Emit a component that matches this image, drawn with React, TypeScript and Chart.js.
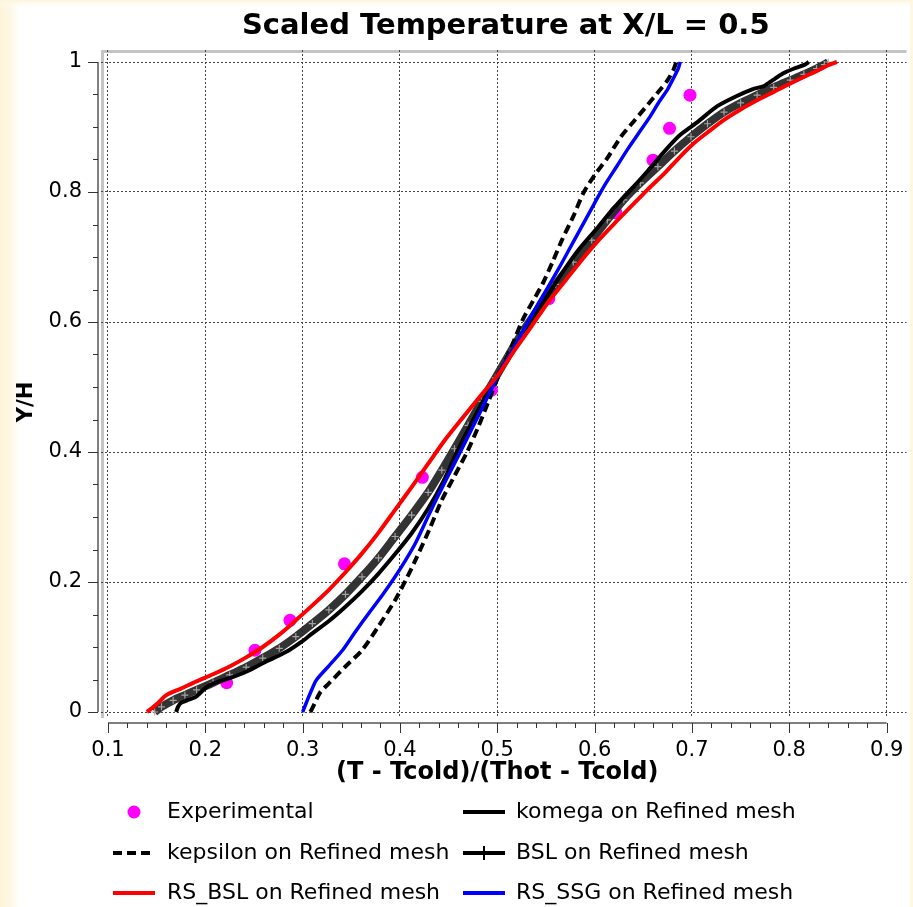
import { useEffect, useRef } from 'react';
import { Chart, registerables } from 'chart.js';

Chart.register(...registerables);

// ---------- data ----------
const xTickValues = [0.1, 0.2, 0.3, 0.4, 0.5, 0.6, 0.7, 0.8, 0.9];
const yTickValues = [0, 0.2, 0.4, 0.6, 0.8, 1];
const xMinorPerMajor = 5;
const yMinorPerMajor = 4;

const expX = [0.222, 0.251, 0.287, 0.343, 0.423, 0.494, 0.553, 0.622, 0.660, 0.677, 0.698];
const expY = [0.045, 0.095, 0.141, 0.228, 0.361, 0.495, 0.636, 0.768, 0.849, 0.898, 0.949];

const komegaX = [0.170, 0.172, 0.175, 0.183, 0.191, 0.201, 0.212, 0.225, 0.242, 0.259, 0.273, 0.286, 0.298, 0.310, 0.327, 0.344, 0.361, 0.378, 0.395, 0.412, 0.429, 0.445, 0.458, 0.472, 0.486, 0.500, 0.513, 0.530, 0.549, 0.566, 0.583, 0.603, 0.620, 0.637, 0.655, 0.672, 0.688, 0.706, 0.726, 0.745, 0.762, 0.774, 0.783, 0.793, 0.805, 0.816, 0.820];
const komegaY = [0.000, 0.008, 0.014, 0.019, 0.024, 0.038, 0.046, 0.052, 0.062, 0.075, 0.085, 0.095, 0.107, 0.121, 0.140, 0.162, 0.186, 0.213, 0.243, 0.275, 0.313, 0.356, 0.398, 0.440, 0.480, 0.517, 0.548, 0.590, 0.634, 0.674, 0.710, 0.745, 0.776, 0.803, 0.833, 0.863, 0.888, 0.908, 0.932, 0.947, 0.958, 0.963, 0.972, 0.982, 0.990, 0.996, 1.000];

const kepsilonX = [0.308, 0.312, 0.318, 0.327, 0.344, 0.361, 0.378, 0.395, 0.406, 0.416, 0.430, 0.443, 0.456, 0.469, 0.480, 0.491, 0.501, 0.514, 0.526, 0.537, 0.547, 0.557, 0.567, 0.578, 0.589, 0.601, 0.613, 0.627, 0.641, 0.655, 0.666, 0.675, 0.681, 0.684];
const kepsilonY = [0.000, 0.012, 0.030, 0.044, 0.070, 0.095, 0.132, 0.172, 0.203, 0.234, 0.280, 0.326, 0.363, 0.400, 0.437, 0.478, 0.516, 0.560, 0.603, 0.633, 0.660, 0.693, 0.728, 0.762, 0.800, 0.828, 0.852, 0.885, 0.910, 0.935, 0.955, 0.972, 0.988, 1.000];

const bslX = [0.148, 0.155, 0.167, 0.179, 0.191, 0.208, 0.225, 0.242, 0.259, 0.276, 0.293, 0.310, 0.327, 0.344, 0.361, 0.378, 0.395, 0.412, 0.429, 0.443, 0.456, 0.470, 0.484, 0.498, 0.512, 0.527, 0.543, 0.560, 0.578, 0.597, 0.613, 0.630, 0.647, 0.665, 0.682, 0.699, 0.716, 0.733, 0.750, 0.767, 0.784, 0.801, 0.815, 0.828, 0.836, 0.840];
const bslY = [0.000, 0.008, 0.018, 0.026, 0.034, 0.045, 0.057, 0.069, 0.083, 0.098, 0.116, 0.136, 0.157, 0.181, 0.208, 0.237, 0.270, 0.303, 0.338, 0.372, 0.405, 0.441, 0.478, 0.514, 0.550, 0.587, 0.622, 0.658, 0.692, 0.726, 0.757, 0.788, 0.814, 0.839, 0.863, 0.885, 0.905, 0.923, 0.937, 0.949, 0.961, 0.972, 0.981, 0.990, 0.996, 1.000];

const rsBslX = [0.140, 0.150, 0.160, 0.175, 0.191, 0.208, 0.225, 0.242, 0.259, 0.276, 0.293, 0.310, 0.327, 0.344, 0.361, 0.378, 0.395, 0.412, 0.429, 0.446, 0.463, 0.481, 0.501, 0.518, 0.535, 0.553, 0.569, 0.586, 0.603, 0.620, 0.637, 0.654, 0.672, 0.687, 0.702, 0.718, 0.733, 0.750, 0.767, 0.784, 0.801, 0.815, 0.828, 0.840, 0.849];
const rsBslY = [0.000, 0.012, 0.026, 0.036, 0.047, 0.058, 0.070, 0.084, 0.100, 0.119, 0.141, 0.164, 0.188, 0.215, 0.244, 0.276, 0.311, 0.346, 0.382, 0.418, 0.450, 0.483, 0.519, 0.557, 0.593, 0.632, 0.662, 0.694, 0.724, 0.751, 0.777, 0.803, 0.829, 0.853, 0.875, 0.894, 0.911, 0.927, 0.941, 0.954, 0.967, 0.977, 0.986, 0.995, 1.000];

const rsSsgX = [0.300, 0.304, 0.309, 0.314, 0.327, 0.341, 0.354, 0.368, 0.382, 0.395, 0.406, 0.416, 0.428, 0.437, 0.449, 0.462, 0.473, 0.484, 0.494, 0.503, 0.514, 0.527, 0.540, 0.553, 0.566, 0.578, 0.589, 0.600, 0.611, 0.623, 0.634, 0.645, 0.657, 0.666, 0.675, 0.681, 0.686, 0.688];
const rsSsgY = [0.000, 0.015, 0.033, 0.049, 0.071, 0.095, 0.123, 0.152, 0.180, 0.208, 0.234, 0.260, 0.298, 0.326, 0.362, 0.400, 0.433, 0.466, 0.497, 0.525, 0.552, 0.588, 0.623, 0.656, 0.690, 0.723, 0.753, 0.783, 0.812, 0.840, 0.866, 0.890, 0.916, 0.938, 0.958, 0.975, 0.990, 1.000];

const titleText = 'Scaled Temperature at X/L = 0.5';
const xTitleText = '(T - Tcold)/(Thot - Tcold)';
const yTitleText = 'Y/H';

// ---------- helpers ----------
const zip = (xs: number[], ys: number[]) => xs.map((x, i) => ({ x, y: ys[i] }));
const fmt = (v: number) => String(Number(v.toFixed(2)));
const FONT = '"DejaVu Sans", Verdana, sans-serif';

const minorValues = (majors: number[], per: number) => {
  const out: number[] = [];
  for (let i = 0; i < majors.length - 1; i++) {
    const a = majors[i], b = majors[i + 1];
    for (let k = 1; k < per; k++) out.push(a + ((b - a) * k) / per);
  }
  return out;
};

const decorPlugin = {
  id: 'decor',
  beforeDraw(chart: any) {
    const { ctx, width, height, chartArea } = chart;
    ctx.save();
    ctx.fillStyle = '#ffffff';
    ctx.fillRect(0, 0, width, height);
    const gl = ctx.createLinearGradient(0, 0, 22, 0);
    gl.addColorStop(0, '#fdf3d6');
    gl.addColorStop(0.55, '#fef8e8');
    gl.addColorStop(1, 'rgba(255,255,255,0)');
    ctx.fillStyle = gl;
    ctx.fillRect(0, 0, 22, height);
    const gt = ctx.createLinearGradient(0, 0, 0, 9);
    gt.addColorStop(0, '#fdf4da');
    gt.addColorStop(1, 'rgba(255,255,255,0)');
    ctx.fillStyle = gt;
    ctx.fillRect(0, 0, width, 9);
    ctx.fillStyle = '#fef7e4';
    ctx.fillRect(width - 3, 0, 3, height);
    // plot box bevel (left + top)
    ctx.fillStyle = '#c4c4c4';
    ctx.fillRect(chartArea.left, chartArea.top, 3, chartArea.bottom - chartArea.top);
    ctx.fillRect(chartArea.left, chartArea.top, chartArea.right - chartArea.left, 3);
    ctx.restore();
  },
  afterDraw(chart: any) {
    const { ctx, chartArea } = chart;
    const xs = chart.scales.x;
    const ys = chart.scales.y;
    ctx.save();
    // axis lines (range frame, offset outside plot box)
    const axisY = chartArea.bottom + 5;
    const axisX = chartArea.left - 3;
    const x0 = xs.getPixelForValue(xTickValues[0]);
    const x1 = xs.getPixelForValue(xTickValues[xTickValues.length - 1]);
    const y0 = ys.getPixelForValue(yTickValues[0]);
    const y1 = ys.getPixelForValue(yTickValues[yTickValues.length - 1]);
    ctx.strokeStyle = '#555';
    ctx.lineWidth = 1.5;
    ctx.beginPath();
    ctx.moveTo(x0, axisY);
    ctx.lineTo(x1, axisY);
    ctx.moveTo(axisX, y0);
    ctx.lineTo(axisX, y1);
    ctx.stroke();
    ctx.lineWidth = 1;
    ctx.strokeStyle = '#333';
    ctx.beginPath();
    xTickValues.forEach((v) => {
      const p = Math.round(xs.getPixelForValue(v)) + 0.5;
      ctx.moveTo(p, axisY);
      ctx.lineTo(p, axisY + 10);
    });
    minorValues(xTickValues, xMinorPerMajor).forEach((v) => {
      const p = Math.round(xs.getPixelForValue(v)) + 0.5;
      ctx.moveTo(p, axisY);
      ctx.lineTo(p, axisY + 5);
    });
    yTickValues.forEach((v) => {
      const p = Math.round(ys.getPixelForValue(v)) + 0.5;
      ctx.moveTo(axisX, p);
      ctx.lineTo(axisX - 10, p);
    });
    minorValues(yTickValues, yMinorPerMajor).forEach((v) => {
      const p = Math.round(ys.getPixelForValue(v)) + 0.5;
      ctx.moveTo(axisX, p);
      ctx.lineTo(axisX - 5, p);
    });
    ctx.stroke();

    // title
    ctx.fillStyle = '#000';
    ctx.textAlign = 'center';
    ctx.textBaseline = 'alphabetic';
    ctx.font = `bold 29px ${FONT}`;
    ctx.fillText(titleText, (chartArea.left + chartArea.right) / 2 + 2, 34);

    // axis titles
    ctx.font = `bold 24px ${FONT}`;
    ctx.textBaseline = 'middle';
    ctx.fillText(xTitleText, (x0 + x1) / 2, 773);
    ctx.font = `bold 21px ${FONT}`;
    ctx.save();
    ctx.translate(27, (y0 + y1) / 2 + 15);
    ctx.rotate(-Math.PI / 2);
    ctx.fillText(yTitleText, 0, 0);
    ctx.restore();

    // legend (2 columns x 3 rows)
    const rows = [812, 853, 893];
    const cols = [
      { sym: 113, text: 167 },
      { sym: 463, text: 516 },
    ];
    ctx.font = `22px ${FONT}`;
    ctx.textAlign = 'left';
    chart.data.datasets.forEach((ds: any, i: number) => {
      const c = cols[i % 2];
      const y = rows[Math.floor(i / 2)];
      const symW = 42;
      if (!ds.showLine) {
        ctx.fillStyle = ds.pointBackgroundColor;
        ctx.beginPath();
        ctx.arc(c.sym + symW / 2, y, 6.5, 0, Math.PI * 2);
        ctx.fill();
      } else {
        const isCross = ds.pointStyle === 'cross';
        ctx.strokeStyle = isCross ? '#000000' : ds.borderColor;
        ctx.lineWidth = 4;
        ctx.setLineDash(ds.borderDash || []);
        ctx.beginPath();
        ctx.moveTo(c.sym, y);
        ctx.lineTo(c.sym + symW, y);
        ctx.stroke();
        ctx.setLineDash([]);
        if (isCross) {
          ctx.lineWidth = 2;
          ctx.beginPath();
          ctx.moveTo(c.sym + symW / 2, y - 7);
          ctx.lineTo(c.sym + symW / 2, y + 7);
          ctx.stroke();
        }
      }
      ctx.fillStyle = '#000';
      ctx.fillText(ds.label, c.text, y);
    });
    ctx.restore();
  },
};

export default function App() {
  const ref = useRef<HTMLCanvasElement>(null);

  useEffect(() => {
    if (!ref.current) return;
    const tickFont = { family: FONT, size: 21 };
    const chart = new Chart(ref.current, {
      type: 'scatter',
      data: {
        datasets: [
          {
            label: 'Experimental',
            data: zip(expX, expY),
            showLine: false,
            pointRadius: 6.5,
            pointBackgroundColor: '#ff00ff',
            backgroundColor: '#ff00ff',
            pointBorderWidth: 0,
            order: 10,
          },
          {
            label: 'komega on Refined mesh',
            data: zip(komegaX, komegaY),
            showLine: true,
            borderColor: '#000000',
            borderWidth: 4,
            pointRadius: 0,
            tension: 0.25,
            order: 5,
          },
          {
            label: 'kepsilon on Refined mesh',
            data: zip(kepsilonX, kepsilonY),
            showLine: true,
            borderColor: '#000000',
            borderWidth: 4,
            borderDash: [9, 5],
            pointRadius: 0,
            tension: 0.25,
            order: 4,
          },
          {
            label: 'BSL on Refined mesh',
            data: zip(bslX, bslY),
            showLine: true,
            borderColor: 'rgba(40,40,40,0.95)',
            borderWidth: 8,
            pointStyle: 'cross',
            pointRadius: 3.5,
            pointBorderWidth: 1.2,
            pointBorderColor: 'rgba(175,175,175,0.9)',
            tension: 0.25,
            order: 6,
          },
          {
            label: 'RS_BSL on Refined mesh',
            data: zip(rsBslX, rsBslY),
            showLine: true,
            borderColor: '#ff0000',
            borderWidth: 4,
            pointRadius: 0,
            tension: 0.25,
            order: 1,
          },
          {
            label: 'RS_SSG on Refined mesh',
            data: zip(rsSsgX, rsSsgY),
            showLine: true,
            borderColor: '#0000ff',
            borderWidth: 3.5,
            pointRadius: 0,
            tension: 0.25,
            order: 2,
          },
        ],
      },
      options: {
        animation: false,
        responsive: false,
        events: [],
        layout: { padding: { top: 50, left: 0, right: 3, bottom: 0 } },
        plugins: {
          legend: { display: false },
          title: { display: false },
          tooltip: { enabled: false },
        },
        scales: {
          x: {
            type: 'linear',
            min: 0.1 - 7 / 977.5,
            max: 0.9 + 20 / 977.5,
            afterBuildTicks: (s: any) => {
              s.ticks = xTickValues.map((value) => ({ value }));
            },
            afterFit: (s: any) => {
              s.height = 907 - 718;
              s.paddingLeft = 0;
              s.paddingRight = 0;
            },
            ticks: {
              callback: (v: any) => fmt(Number(v)),
              font: tickFont,
              color: '#000',
              padding: 20,
              maxRotation: 0,
              autoSkip: false,
            },
            grid: { color: '#444', lineWidth: 1, drawTicks: false },
            border: { display: false, dash: [2, 2] },
          },
          y: {
            type: 'linear',
            min: -6 / 650,
            max: 1 + 12 / 650,
            afterBuildTicks: (s: any) => {
              s.ticks = yTickValues.map((value) => ({ value }));
            },
            afterFit: (s: any) => {
              s.width = 101;
              s.paddingTop = 0;
              s.paddingBottom = 0;
            },
            ticks: {
              callback: (v: any) => fmt(Number(v)),
              font: tickFont,
              color: '#000',
              padding: 19,
              autoSkip: false,
            },
            grid: { color: '#444', lineWidth: 1, drawTicks: false },
            border: { display: false, dash: [2, 2] },
          },
        },
      },
      plugins: [decorPlugin],
    } as any);
    return () => chart.destroy();
  }, []);

  return (
    <div style={{ width: 913, height: 907, position: 'relative' }}>
      <style>{'body{margin:0;background:#ffffff;}'}</style>
      <canvas ref={ref} width={913} height={907} style={{ display: 'block', width: 913, height: 907 }} />
    </div>
  );
}
